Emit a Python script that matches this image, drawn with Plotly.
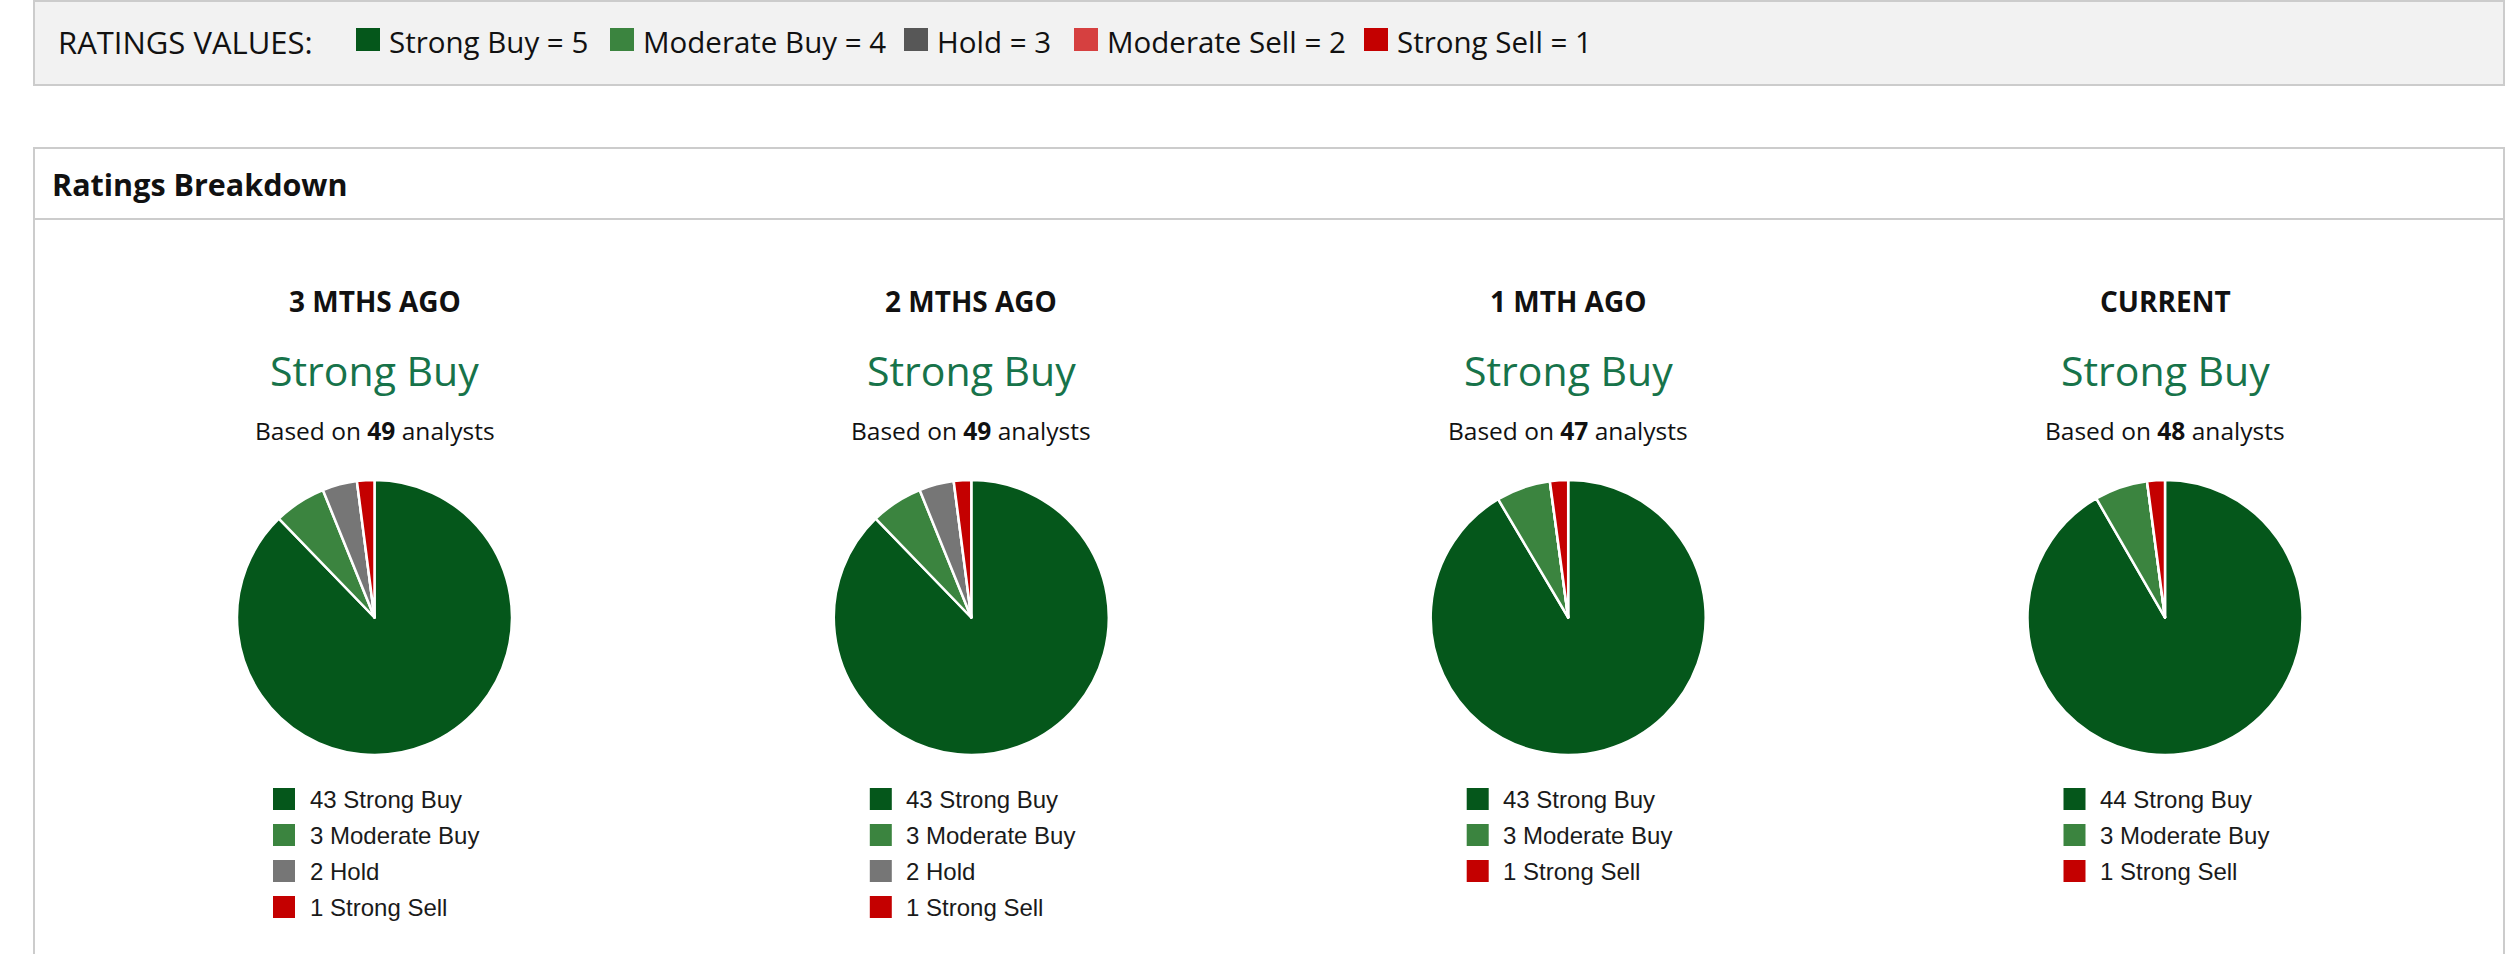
import plotly.graph_objects as go

# ---------------------------------------------------------------------------
# Datos
# ---------------------------------------------------------------------------
ratings = ["Strong Buy", "Moderate Buy", "Hold", "Moderate Sell", "Strong Sell"]
rating_values = [5, 4, 3, 2, 1]

periods = ["3 MTHS AGO", "2 MTHS AGO", "1 MTH AGO", "CURRENT"]
consensus = ["Strong Buy", "Strong Buy", "Strong Buy", "Strong Buy"]

strong_buy = [43, 43, 43, 44]
moderate_buy = [3, 3, 3, 3]
hold = [2, 2, 0, 0]
moderate_sell = [0, 0, 0, 0]
strong_sell = [1, 1, 1, 1]

# ---------------------------------------------------------------------------
# Estilo / layout
# ---------------------------------------------------------------------------
W, H = 2518, 954
colors = ["#05571b", "#3b843f", "#767676", "#d64040", "#c40000"]
legend_top_colors = ["#05571b", "#3b843f", "#575757", "#d64040", "#c40000"]
HEAD_FONT = "Open Sans"
LEG_FONT = "Liberation Sans"


def fx(x):
    return x / W


def fy(y):
    return 1 - y / H


counts = [strong_buy, moderate_buy, hold, moderate_sell, strong_sell]

fig = go.Figure()
shapes = []
annotations = []

# caja superior "RATINGS VALUES"
shapes.append(dict(type="rect", xref="paper", yref="paper",
                   x0=fx(34), x1=fx(2504), y0=fy(85), y1=fy(1),
                   fillcolor="#f2f2f2", line=dict(color="#cccccc", width=2), layer="below"))
annotations.append(dict(x=fx(56), y=fy(42), xref="paper", yref="paper",
                        text="RATINGS VALUES:", showarrow=False, xanchor="left", yanchor="middle",
                        font=dict(family=HEAD_FONT, size=31, color="#111111")))

sw_x = [356, 610, 904, 1074, 1364]
for i, (name, val) in enumerate(zip(ratings, rating_values)):
    shapes.append(dict(type="rect", xref="paper", yref="paper",
                       x0=fx(sw_x[i]), x1=fx(sw_x[i] + 24), y0=fy(51), y1=fy(28),
                       fillcolor=legend_top_colors[i], line=dict(width=0)))
    annotations.append(dict(x=fx(sw_x[i] + 31), y=fy(42), xref="paper", yref="paper",
                            text=f"{name} = {val}", showarrow=False, xanchor="left", yanchor="middle",
                            font=dict(family=HEAD_FONT, size=29.5, color="#111111")))

# caja "Ratings Breakdown"
shapes.append(dict(type="rect", xref="paper", yref="paper",
                   x0=fx(34), x1=fx(2504), y0=fy(970), y1=fy(148),
                   fillcolor="white", line=dict(color="#cccccc", width=2), layer="below"))
shapes.append(dict(type="line", xref="paper", yref="paper",
                   x0=fx(34), x1=fx(2504), y0=fy(219), y1=fy(219),
                   line=dict(color="#cccccc", width=2)))
annotations.append(dict(x=fx(50), y=fy(184), xref="paper", yref="paper",
                        text="<b>Ratings Breakdown</b>", showarrow=False, xanchor="left", yanchor="middle",
                        font=dict(family=HEAD_FONT, size=30.5, color="#111111")))

# ---------------------------------------------------------------------------
# Pies
# ---------------------------------------------------------------------------
centers = [374.5, 971.3, 1568.2, 2165]
R = 137.5
CY = 617.5

for p, cx in enumerate(centers):
    vals = [c[p] for c in counts]
    total = sum(vals)

    fig.add_trace(go.Pie(
        values=vals,
        labels=ratings,
        marker=dict(colors=colors, line=dict(color="white", width=2.5)),
        sort=False,
        direction="clockwise",
        rotation=0,
        textinfo="none",
        hovertemplate="%{label}: %{value}<extra></extra>",
        showlegend=False,
        domain=dict(x=[fx(cx - R), fx(cx + R)], y=[fy(CY + R), fy(CY - R)]),
    ))

    annotations.append(dict(x=fx(cx), y=fy(301), xref="paper", yref="paper",
                            text=f"<b>{periods[p]}</b>", showarrow=False, xanchor="center", yanchor="middle",
                            font=dict(family=HEAD_FONT, size=28, color="#111111")))
    annotations.append(dict(x=fx(cx), y=fy(370), xref="paper", yref="paper",
                            text=consensus[p], showarrow=False, xanchor="center", yanchor="middle",
                            font=dict(family=HEAD_FONT, size=41, color="#17734a")))
    annotations.append(dict(x=fx(cx), y=fy(430), xref="paper", yref="paper",
                            text=f"Based on <b>{total}</b> analysts", showarrow=False,
                            xanchor="center", yanchor="middle",
                            font=dict(family=HEAD_FONT, size=24.5, color="#111111")))

    # leyenda propia de cada pie
    row = 0
    for i, name in enumerate(ratings):
        if vals[i] == 0:
            continue
        yc = 799 + 36 * row
        shapes.append(dict(type="rect", xref="paper", yref="paper",
                           x0=fx(cx - 101.5), x1=fx(cx - 79.5), y0=fy(yc + 11), y1=fy(yc - 11),
                           fillcolor=colors[i], line=dict(width=0)))
        annotations.append(dict(x=fx(cx - 67), y=fy(yc), xref="paper", yref="paper",
                                text=f"{vals[i]} {name}", showarrow=False, xanchor="left", yanchor="middle",
                                font=dict(family=LEG_FONT, size=24, color="#1a1a1a")))
        row += 1

fig.update_layout(
    width=W, height=H,
    margin=dict(l=0, r=0, t=0, b=0),
    paper_bgcolor="white",
    plot_bgcolor="white",
    shapes=shapes,
    annotations=annotations,
)

# quita el margen por defecto del <body> para que la figura empiece en (0, 0)
fig.write_html("out.html", config={"displayModeBar": False},
               post_script="document.body.style.margin='0px';")
